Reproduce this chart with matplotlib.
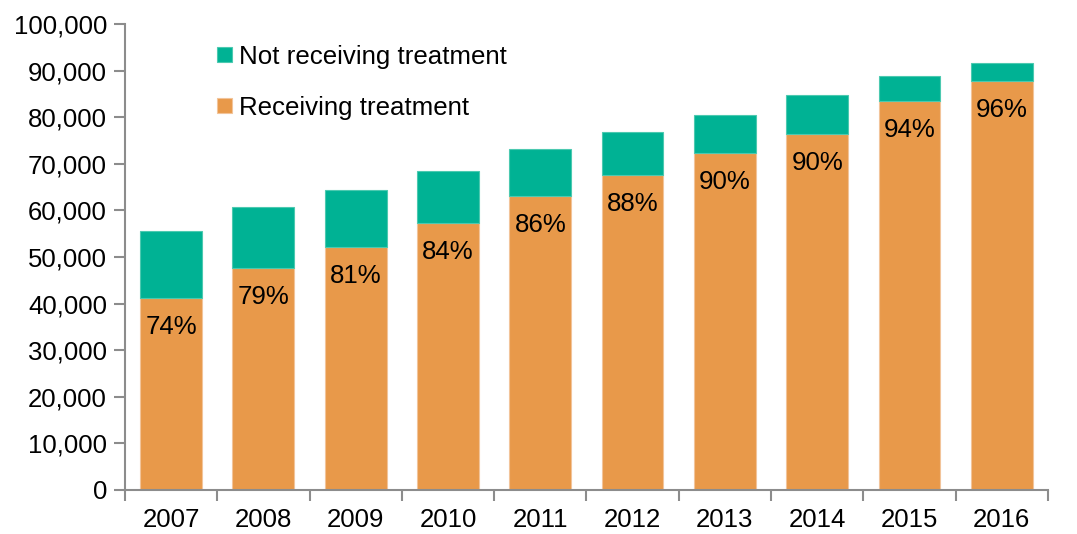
import matplotlib.pyplot as plt
import matplotlib.ticker as mticker
import numpy as np

years = ["2007", "2008", "2009", "2010", "2011", "2012", "2013", "2014", "2015", "2016"]
receiving = [41200, 47600, 52200, 57400, 63000, 67600, 72300, 76500, 83500, 87800]
total = [55600, 60700, 64400, 68500, 73200, 76900, 80500, 84700, 88800, 91700]
pct_labels = ["74%", "79%", "81%", "84%", "86%", "88%", "90%", "90%", "94%", "96%"]

not_receiving = [t - r for t, r in zip(total, receiving)]

orange = "#E8994A"
teal = "#00B294"
axis_grey = "#8C8C8C"

plt.rcParams["font.family"] = ["Liberation Sans", "DejaVu Sans"]

fig = plt.figure(figsize=(10.77, 5.34), dpi=100)
ax = fig.add_axes([0.116, 0.0824, 0.857, 0.8726])

x = np.arange(len(years))
w = 0.67
b1 = ax.bar(x, receiving, w, color=orange, edgecolor="#F2C49A", linewidth=0.8,
            label="Receiving treatment")
b2 = ax.bar(x, not_receiving, w, bottom=receiving, color=teal, edgecolor="#4CC9B0",
            linewidth=0.8, label="Not receiving treatment")

# percentage labels just under the top of the orange part
for xi, r, lab in zip(x, receiving, pct_labels):
    ax.annotate(lab, (xi, r), xytext=(0, -29), textcoords="offset pixels",
                ha="center", va="center", fontsize=18.6, color="black")

ax.set_xlim(-0.5, len(years) - 0.5)
ax.set_ylim(0, 100000)
ax.yaxis.set_major_locator(mticker.MultipleLocator(10000))
ax.yaxis.set_major_formatter(mticker.FuncFormatter(lambda v, p: f"{int(v):,}"))

ax.set_xticks(x)
ax.set_xticklabels(years)
ax.set_xticks(np.arange(-0.5, len(years), 1.0), minor=True)
ax.tick_params(axis="x", which="major", length=0, pad=13, labelsize=18.5)
ax.tick_params(axis="x", which="minor", length=8, width=1.5, color=axis_grey, direction="out")
ax.tick_params(axis="y", which="major", length=8, width=1.5, color=axis_grey,
               labelsize=18.5, pad=5)

for s in ["top", "right"]:
    ax.spines[s].set_visible(False)
for s in ["left", "bottom"]:
    ax.spines[s].set_color(axis_grey)
    ax.spines[s].set_linewidth(1.5)

leg = ax.legend(handles=[b2, b1], loc="upper left", bbox_to_anchor=(0.089, 0.978),
                frameon=False, fontsize=18.6, handlelength=0.55, handleheight=0.55,
                handletextpad=0.3, labelspacing=1.05, borderaxespad=0)

fig.savefig("out.png", dpi=100)
